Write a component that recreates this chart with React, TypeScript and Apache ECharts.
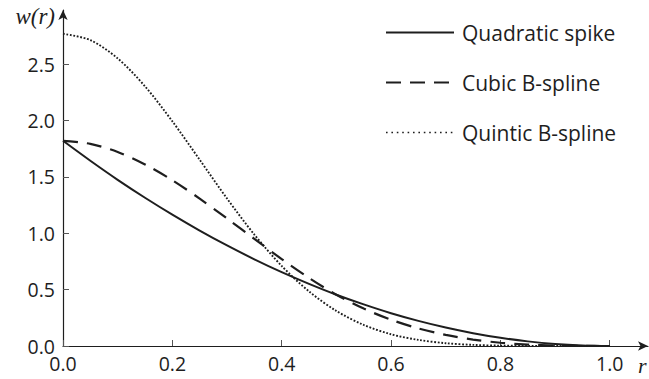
import React, { useEffect, useRef } from "react";
import * as echarts from "echarts";

const rValues = [0, 0.05, 0.1, 0.15, 0.2, 0.25, 0.3, 0.35, 0.4, 0.45, 0.5, 0.55, 0.6, 0.65, 0.7, 0.75, 0.8, 0.85, 0.9, 0.95, 1.0];
const quadraticSpike = [1.82, 1.643, 1.474, 1.315, 1.165, 1.024, 0.892, 0.769, 0.655, 0.551, 0.455, 0.369, 0.291, 0.223, 0.164, 0.114, 0.073, 0.041, 0.018, 0.005, 0];
const cubicBSpline = [1.819, 1.793, 1.721, 1.61, 1.47, 1.307, 1.131, 0.95, 0.771, 0.604, 0.455, 0.332, 0.233, 0.156, 0.098, 0.057, 0.029, 0.012, 0.004, 0.001, 0];
const quinticBSpline = [2.769, 2.713, 2.551, 2.303, 1.993, 1.652, 1.308, 0.988, 0.71, 0.484, 0.311, 0.187, 0.104, 0.054, 0.025, 0.01, 0.003, 0.001, 0.0001, 0, 0];
const seriesNames = ["Quadratic spike", "Cubic B-spline", "Quintic B-spline"];
const xTicks = [0, 0.2, 0.4, 0.6, 0.8, 1.0];
const yTicks = [0, 0.5, 1.0, 1.5, 2.0, 2.5];

const INK = "#1e1e1e";
const FONT = "'Open Sans', sans-serif";

function pairs(ys: number[]) {
  return rValues.map((r, i) => [r, ys[i]]);
}

export default function App() {
  const ref = useRef<HTMLDivElement>(null);
  useEffect(() => {
    if (!ref.current) return;
    const chart = echarts.init(ref.current, undefined, { renderer: "svg" });
    const isTick = (v: number, step: number) => Math.abs(v / step - Math.round(v / step)) < 1e-6;
    chart.setOption({
      animation: false,
      backgroundColor: "#ffffff",
      grid: { left: 63, right: 1, top: 10, bottom: 33, containLabel: false, outerBoundsMode: "none" },
      legend: {
        orient: "vertical",
        left: 380,
        top: 17,
        itemWidth: 68,
        itemHeight: 14,
        itemGap: 29,
        itemStyle: { opacity: 0 },
        data: [
          { name: seriesNames[0] },
          { name: seriesNames[1] },
          { name: seriesNames[2], lineStyle: { type: [1.6, 3.8], width: 1.6 } },
        ],
        textStyle: { fontFamily: FONT, fontSize: 21, color: INK, padding: [0, 0, 0, 3] },
      },
      xAxis: {
        type: "value",
        min: 0,
        max: 1.07,
        interval: 0.2,
        name: "r",
        nameLocation: "end",
        nameGap: -10,
        nameTextStyle: {
          fontFamily: "'Liberation Serif', serif",
          fontStyle: "italic",
          fontSize: 22,
          color: INK,
          align: "left",
          verticalAlign: "top",
          padding: [8, 0, 0, 0],
        },
        splitLine: { show: false },
        axisLine: {
          onZero: false,
          lineStyle: { color: INK, width: 1.2 },
          symbol: ["none", "arrow"],
          symbolSize: [7, 10],
        },
        axisTick: {
          inside: true,
          length: 6,
          lineStyle: { color: "#555", width: 1 },
          customValues: xTicks,
        },
        axisLabel: {
          margin: 7,
          fontFamily: FONT,
          fontSize: 19.5,
          color: INK,
          customValues: xTicks,
          formatter: (v: number) => (isTick(v, 0.2) ? v.toFixed(1) : ""),
        },
      },
      yAxis: {
        type: "value",
        min: 0,
        max: 2.98,
        interval: 0.5,
        name: "w(r)",
        nameLocation: "end",
        nameGap: -6,
        nameTextStyle: {
          fontFamily: "'Liberation Serif', serif",
          fontStyle: "italic",
          fontSize: 23,
          color: INK,
          align: "right",
          verticalAlign: "middle",
          padding: [0, 8, 0, 0],
        },
        splitLine: { show: false },
        axisLine: {
          onZero: false,
          lineStyle: { color: INK, width: 1.2 },
          symbol: ["none", "arrow"],
          symbolSize: [7, 10],
        },
        axisTick: {
          inside: true,
          length: 6,
          lineStyle: { color: "#555", width: 1 },
          customValues: yTicks,
        },
        axisLabel: {
          margin: 8,
          fontFamily: FONT,
          fontSize: 19.5,
          color: INK,
          customValues: yTicks,
          formatter: (v: number) => (isTick(v, 0.5) ? v.toFixed(1) : ""),
        },
      },
      series: [
        {
          name: seriesNames[0],
          type: "line",
          data: pairs(quadraticSpike),
          smooth: 0.3,
          symbol: "none",
          lineStyle: { color: INK, width: 2, type: "solid" },
          itemStyle: { color: INK },
        },
        {
          name: seriesNames[1],
          type: "line",
          data: pairs(cubicBSpline),
          smooth: 0.3,
          symbol: "none",
          lineStyle: { color: INK, width: 2.2, type: [15, 9] },
          itemStyle: { color: INK },
        },
        {
          name: seriesNames[2],
          type: "line",
          data: pairs(quinticBSpline),
          smooth: 0.3,
          symbol: "none",
          lineStyle: { color: INK, width: 1.9, type: [1.8, 1.7] },
          itemStyle: { color: INK },
        },
      ],
    });
    return () => chart.dispose();
  }, []);
  return (
    <div
      ref={ref}
      style={{ position: "fixed", left: 0, top: 0, width: 649, height: 379, background: "#fff" }}
    />
  );
}
